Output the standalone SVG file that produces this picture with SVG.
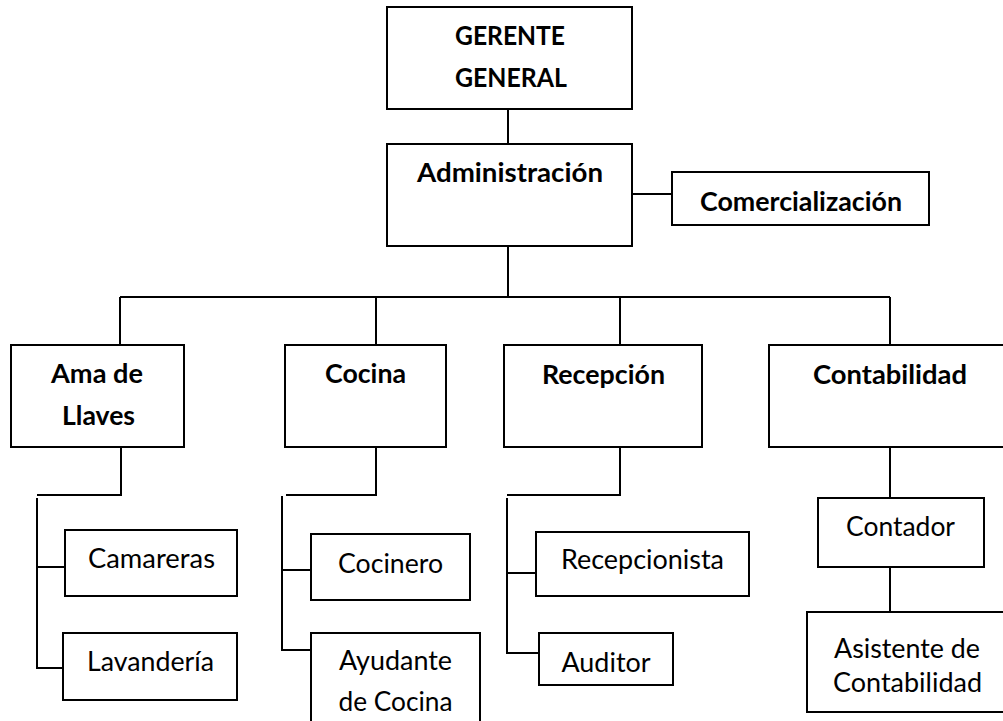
<svg xmlns="http://www.w3.org/2000/svg" width="1003" height="721" viewBox="0 0 1003 721">
<style>
.box{fill:#fff;stroke:#000;stroke-width:2}
.con{fill:none;stroke:#000;stroke-width:2}
text{font-family:Lato,"Liberation Sans",sans-serif;font-size:26px;fill:#000;text-anchor:middle}
.b{font-weight:bold}
</style>
<rect width="1003" height="721" fill="#fff"/>
<g id="connectors">
<path class="con" d="M508,109V144M632,194H672M508,246V297M120,297H890M120,297V345M376,297V345M620,297V345M890,297V345"/>
<path class="con" d="M121,447V495H37M37,498V668H63M37,567H65"/>
<path class="con" d="M376,447V495H286M282,496V650H311M282,570H311"/>
<path class="con" d="M620,447V495H507M507,498V653H539M507,573H536"/>
<path class="con" d="M890,447V498M890,567V612"/>
</g>
<g id="gerente"><rect class="box" x="387" y="7" width="245" height="102"/><text class="b" x="510" y="45" textLength="110" lengthAdjust="spacingAndGlyphs">GERENTE</text><text class="b" x="511" y="87" textLength="112" lengthAdjust="spacingAndGlyphs">GENERAL</text></g>
<g id="administracion"><rect class="box" x="387" y="144" width="245" height="102"/><text class="b" x="510" y="182" textLength="186" lengthAdjust="spacingAndGlyphs">Administración</text></g>
<g id="comercializacion"><rect class="box" x="672" y="172" width="257" height="53"/><text class="b" x="801" y="211" textLength="202" lengthAdjust="spacingAndGlyphs">Comercialización</text></g>
<g id="ama"><rect class="box" x="11" y="345" width="173" height="102"/><text class="b" x="97" y="383" textLength="92" lengthAdjust="spacingAndGlyphs">Ama de</text><text class="b" x="98.5" y="425" textLength="73" lengthAdjust="spacingAndGlyphs">Llaves</text></g>
<g id="cocina"><rect class="box" x="285" y="345" width="161" height="102"/><text class="b" x="365.5" y="383" textLength="81" lengthAdjust="spacingAndGlyphs">Cocina</text></g>
<g id="recepcion"><rect class="box" x="504" y="345" width="198" height="102"/><text class="b" x="603.5" y="384" textLength="123" lengthAdjust="spacingAndGlyphs">Recepción</text></g>
<g id="contabilidad"><rect class="box" x="769" y="345" width="243" height="102"/><text class="b" x="890" y="384" textLength="154" lengthAdjust="spacingAndGlyphs">Contabilidad</text></g>
<g id="camareras"><rect class="box" x="65" y="530" width="172" height="66"/><text x="151.5" y="568" textLength="127" lengthAdjust="spacingAndGlyphs">Camareras</text></g>
<g id="lavanderia"><rect class="box" x="63" y="633" width="174" height="67"/><text x="150.5" y="671" textLength="127" lengthAdjust="spacingAndGlyphs">Lavandería</text></g>
<g id="cocinero"><rect class="box" x="311" y="534" width="159" height="66"/><text x="390.5" y="573" textLength="105" lengthAdjust="spacingAndGlyphs">Cocinero</text></g>
<g id="ayudante"><rect class="box" x="311" y="633" width="169" height="100"/><text x="395.5" y="670" textLength="113" lengthAdjust="spacingAndGlyphs">Ayudante</text><text x="395.5" y="711" textLength="114" lengthAdjust="spacingAndGlyphs">de Cocina</text></g>
<g id="recepcionista"><rect class="box" x="536" y="532" width="213" height="64"/><text x="642.5" y="569" textLength="163" lengthAdjust="spacingAndGlyphs">Recepcionista</text></g>
<g id="auditor"><rect class="box" x="539" y="633" width="134" height="52"/><text x="606" y="672" textLength="89" lengthAdjust="spacingAndGlyphs">Auditor</text></g>
<g id="contador"><rect class="box" x="818" y="498" width="166" height="69"/><text x="900.5" y="536" textLength="109" lengthAdjust="spacingAndGlyphs">Contador</text></g>
<g id="asistente"><rect class="box" x="807" y="612" width="205" height="100"/><text x="907" y="658" textLength="146" lengthAdjust="spacingAndGlyphs">Asistente de</text><text x="907.5" y="692" textLength="149" lengthAdjust="spacingAndGlyphs">Contabilidad</text></g>
</svg>
